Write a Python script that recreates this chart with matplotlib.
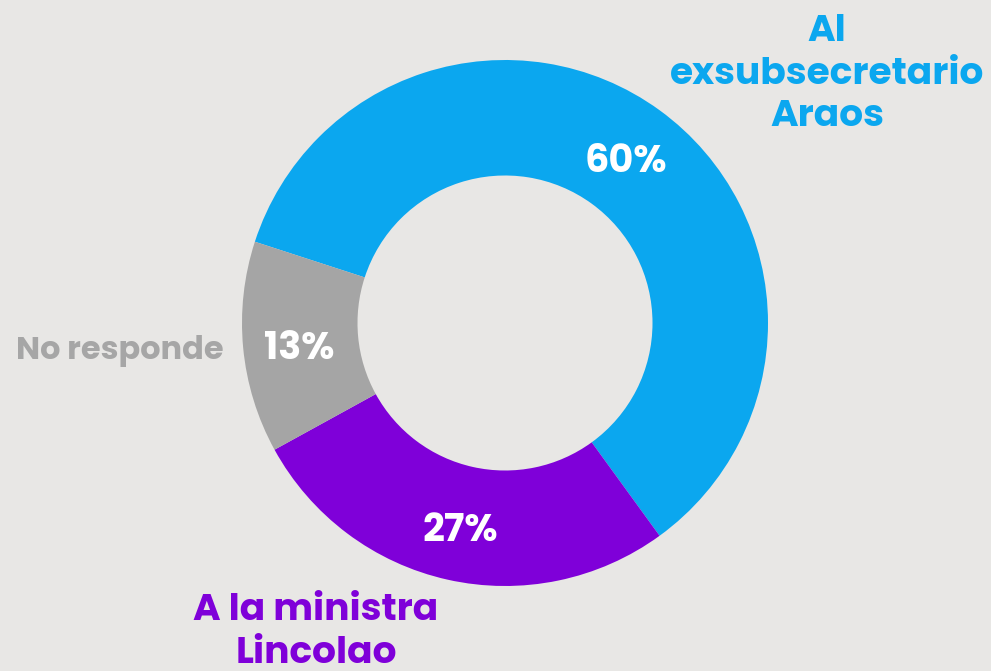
import matplotlib
matplotlib.use("Agg")
import matplotlib.pyplot as plt
import numpy as np

categories = ["Al\nexsubsecretario\nAraos", "A la ministra\nLincolao", "No responde"]
values = [60, 27, 13]
pct_labels = ["60%", "27%", "13%"]
colors = ["#0ba7ef", "#7f00d9", "#a5a5a5"]
label_colors = ["#0ba7ef", "#7f00d9", "#a6a6a6"]

BG = "#e8e7e5"
FONT = ["Poppins", "Open Sans", "DejaVu Sans"]
plt.rcParams["font.family"] = FONT

fig = plt.figure(figsize=(9.91, 6.71), dpi=100, facecolor=BG)
ax = fig.add_axes([0, 0, 1, 1])
ax.set_facecolor(BG)

R = 263.0
cx, cy = 505.0, 323.0
W, H = 991.0, 671.0

def to_data(px, py):
    return (px - cx) / R, (cy - py) / R

wedges, _ = ax.pie(values, colors=colors, startangle=162, counterclock=False,
                   radius=1.0, wedgeprops=dict(width=1 - 147.5 / R, linewidth=0))

total = sum(values)
ang = 162.0
for v, lab in zip(values, pct_labels):
    span = 360.0 * v / total
    mid = np.deg2rad(ang - span / 2)
    ang -= span
    r = 0.785
    ax.text(r * np.cos(mid), r * np.sin(mid) - 7 / R, lab, ha="center", va="center",
            color="white", fontsize=27.5, fontweight="bold")

label_pos = [(827, 75, "center"), (316, 633, "center"), (224, 351, "right")]
label_sizes = [27, 27, 23]
for (px, py, ha), txt, col, fs in zip(label_pos, categories, label_colors, label_sizes):
    x, y = to_data(px, py)
    ax.text(x, y, txt, ha=ha, va="center", multialignment="center",
            color=col, fontsize=fs, fontweight="bold", linespacing=1.2)

ax.set_xlim(-cx / R, (W - cx) / R)
ax.set_ylim((cy - H) / R, cy / R)
ax.set_aspect("auto")
ax.axis("off")

fig.savefig("out.png", dpi=100, facecolor=BG)
